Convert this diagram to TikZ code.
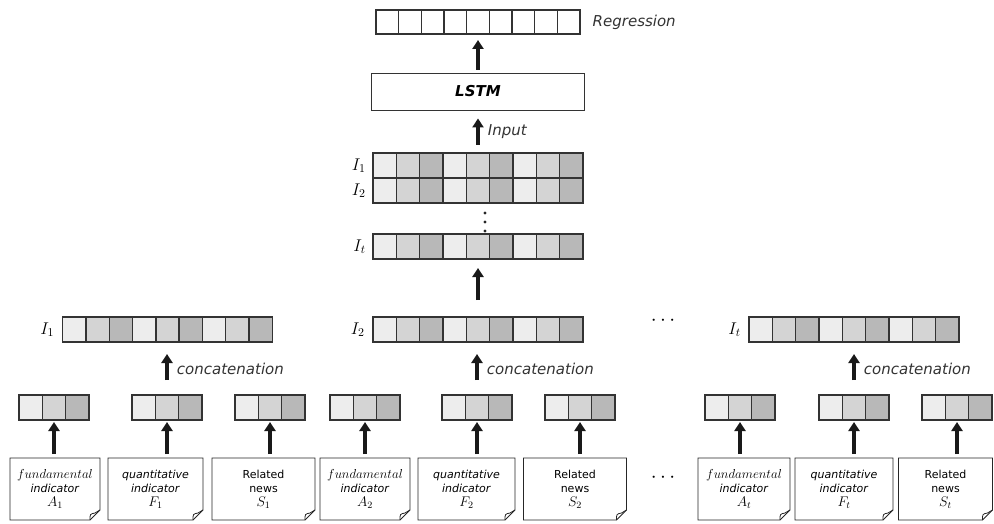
\documentclass[tikz,border=0pt]{standalone}
\usepackage{fix-cm}
\usepackage{fontspec}
\setsansfont{DejaVu Sans}
\usetikzlibrary{positioning,arrows.meta}

\definecolor{cellA}{gray}{0.93}
\definecolor{cellB}{gray}{0.83}
\definecolor{cellC}{gray}{0.72}
\definecolor{rim}{gray}{0.2}

\tikzset{
  cellrow/.style={draw=rim,line width=1.4pt,inner sep=0pt,outer sep=0pt,
    minimum height=25pt,minimum width=#1*23.3pt,
    path picture={
      \foreach \i in {1,...,#1}{
        \pgfmathtruncatemacro\shd{mod(\i-1,3)}
        \ifcase\shd\colorlet{cellfill}{cellA}\or\colorlet{cellfill}{cellB}\else\colorlet{cellfill}{cellC}\fi
        \draw[fill=cellfill,draw=rim,line width=1.4pt]
          ([xshift={(\i-1)*23.3pt}]path picture bounding box.south west) rectangle ++(23.3pt,25pt);
      }
    }},
  blankrow/.style={draw=rim,line width=1.4pt,fill=white,inner sep=0pt,outer sep=0pt,
    minimum height=24pt,minimum width=#1*22.7pt,
    path picture={
      \foreach \i in {1,...,#1}{
        \draw[draw=rim,line width=1.4pt]
          ([xshift={\i*22.7pt}]path picture bounding box.south west) -- ++(0pt,24pt);
      }
    }},
  lstmbox/.style={draw=black!80,line width=0.9pt,minimum width=213pt,minimum height=37pt,
    font=\sffamily\bfseries\itshape\fontsize{15}{18}\selectfont},
  doc/.style={minimum height=62pt,inner sep=1pt,outer sep=0pt,align=center,
    font=\sffamily\fontsize{11}{14}\selectfont},
  docline/.style={draw=black!85,line width=0.8pt},
  note/.style={font=\sffamily\itshape\fontsize{15}{18}\selectfont,text=black!80},
  ilabel/.style={font=\fontsize{17}{20}\selectfont},
  dotlabel/.style={font=\fontsize{21}{21}\selectfont},
  uparrow/.style={-{Triangle[length=9pt,width=11pt]},line width=3.2pt,black!90},
}

\newcommand{\mathline}[2]{{\fontsize{#1}{14}\selectfont$#2$}}
\newcommand{\fundtext}[1]{\mathline{13}{fundamental}\\ \textit{indicator}\\ \mathline{14}{#1}}
\newcommand{\quanttext}[1]{\textit{quantitative}\\ \textit{indicator}\\ \mathline{14}{#1}}
\newcommand{\newstext}[1]{Related\\ news\\ \mathline{14}{#1}}

\begin{document}
\begin{tikzpicture}[x=1pt,y=-1pt]
  \useasboundingbox (0,0) rectangle (994,524);

  % output side
  \node[blankrow=9] (reg) at (478,22) {};
  \node[note,right=9pt of reg] (reglab) {Regression};
  \node[lstmbox] (lstm) at (478,91.5) {LSTM};

  % stacked sequence
  \node[cellrow=9] (st1) at (478,165.5) {};
  \node[cellrow=9,below=0pt of st1] (st2) {};
  \node[cellrow=9] (stt) at (478,246.5) {};
  \node[ilabel,left=4pt of st1] (st1lab) {$I_1$};
  \node[ilabel,left=4pt of st2] (st2lab) {$I_2$};
  \node[ilabel,left=4pt of stt] (sttlab) {$I_t$};
  \coordinate (vd) at (485,213);
  \foreach \k in {0,1,2}
    \fill[black!85] (vd) ++(0pt,\k*9) circle (1.6pt);

  % concatenated rows
  \node[cellrow=9] (i1) at (167.5,329.5) {};
  \node[cellrow=9] (i2) at (478,329.5) {};
  \node[cellrow=9] (it) at (854,329.5) {};
  \node[ilabel,left=5pt of i1] (i1lab) {$I_1$};
  \node[ilabel,left=5pt of i2] (i2lab) {$I_2$};
  \node[ilabel,left=5pt of it] (itlab) {$I_t$};
  \node[dotlabel] (hdots1) at (663,321) {$\cdots$};

  % feature rows
  \node[cellrow=3] (ba1) at (54,407.5) {};
  \node[cellrow=3] (bf1) at (167,407.5) {};
  \node[cellrow=3] (bs1) at (270,407.5) {};
  \node[cellrow=3] (ba2) at (365,407.5) {};
  \node[cellrow=3] (bf2) at (477,407.5) {};
  \node[cellrow=3] (bs2) at (580,407.5) {};
  \node[cellrow=3] (bat) at (740,407.5) {};
  \node[cellrow=3] (bft) at (854,407.5) {};
  \node[cellrow=3] (bst) at (957,407.5) {};

  % documents
  \node[doc,minimum width=90pt] (da1) at (55,489) {\fundtext{A_1}};
  \node[doc,minimum width=95pt] (df1) at (155.5,489) {\quanttext{F_1}};
  \node[doc,minimum width=103pt] (ds1) at (263.5,489) {\newstext{S_1}};
  \node[doc,minimum width=90pt] (da2) at (365,489) {\fundtext{A_2}};
  \node[doc,minimum width=97pt] (df2) at (466.5,489) {\quanttext{F_2}};
  \node[doc,minimum width=103pt] (ds2) at (575,489) {\newstext{S_2}};
  \node[doc,minimum width=92pt] (dat) at (744,489) {\fundtext{A_t}};
  \node[doc,minimum width=98pt] (dft) at (844,489) {\quanttext{F_t}};
  \node[doc,minimum width=94pt] (dst) at (945.5,489) {\newstext{S_t}};
  \node[dotlabel] (hdots2) at (663,478) {$\cdots$};

  \foreach \d in {da1,df1,ds1,da2,df2,ds2,dat,dft,dst}{
    \draw[docline] (\d.north west) -- (\d.north east) -- ([yshift=10pt]\d.south east)
      -- ([xshift=-10pt]\d.south east) -- (\d.south west) -- cycle;
    \draw[docline] ([xshift=-10pt]\d.south east)
      .. controls ([xshift=-10pt,yshift=6pt]\d.south east) .. ([xshift=-5pt,yshift=7pt]\d.south east)
      -- ([yshift=10pt]\d.south east);
  }

  % connectors
  \foreach \b/\d in {ba1/da1,bf1/df1,bs1/ds1,ba2/da2,bf2/df2,bs2/ds2,bat/dat,bft/dft,bst/dst}
    \draw[uparrow,shorten <=4pt,shorten >=2pt] (\d.north -| \b) -- (\b);

  \draw[uparrow,shorten <=15pt,shorten >=12pt] (bf1) -- (bf1 |- i1.south)
    node[note,midway,right=5pt] (cat1) {concatenation};
  \draw[uparrow,shorten <=15pt,shorten >=12pt] (bf2) -- (bf2 |- i2.south)
    node[note,midway,right=5pt] (cat2) {concatenation};
  \draw[uparrow,shorten <=15pt,shorten >=12pt] (bft) -- (bft |- it.south)
    node[note,midway,right=5pt] (catt) {concatenation};

  \draw[uparrow,shorten <=17pt,shorten >=9pt] (i2) -- (stt);
  \draw[uparrow,shorten <=8pt,shorten >=8pt] (st1) -- (lstm)
    node[note,midway,right=5pt] (inlab) {Input};
  \draw[uparrow,shorten <=3pt,shorten >=6pt] (lstm) -- (reg);
\end{tikzpicture}
\end{document}
